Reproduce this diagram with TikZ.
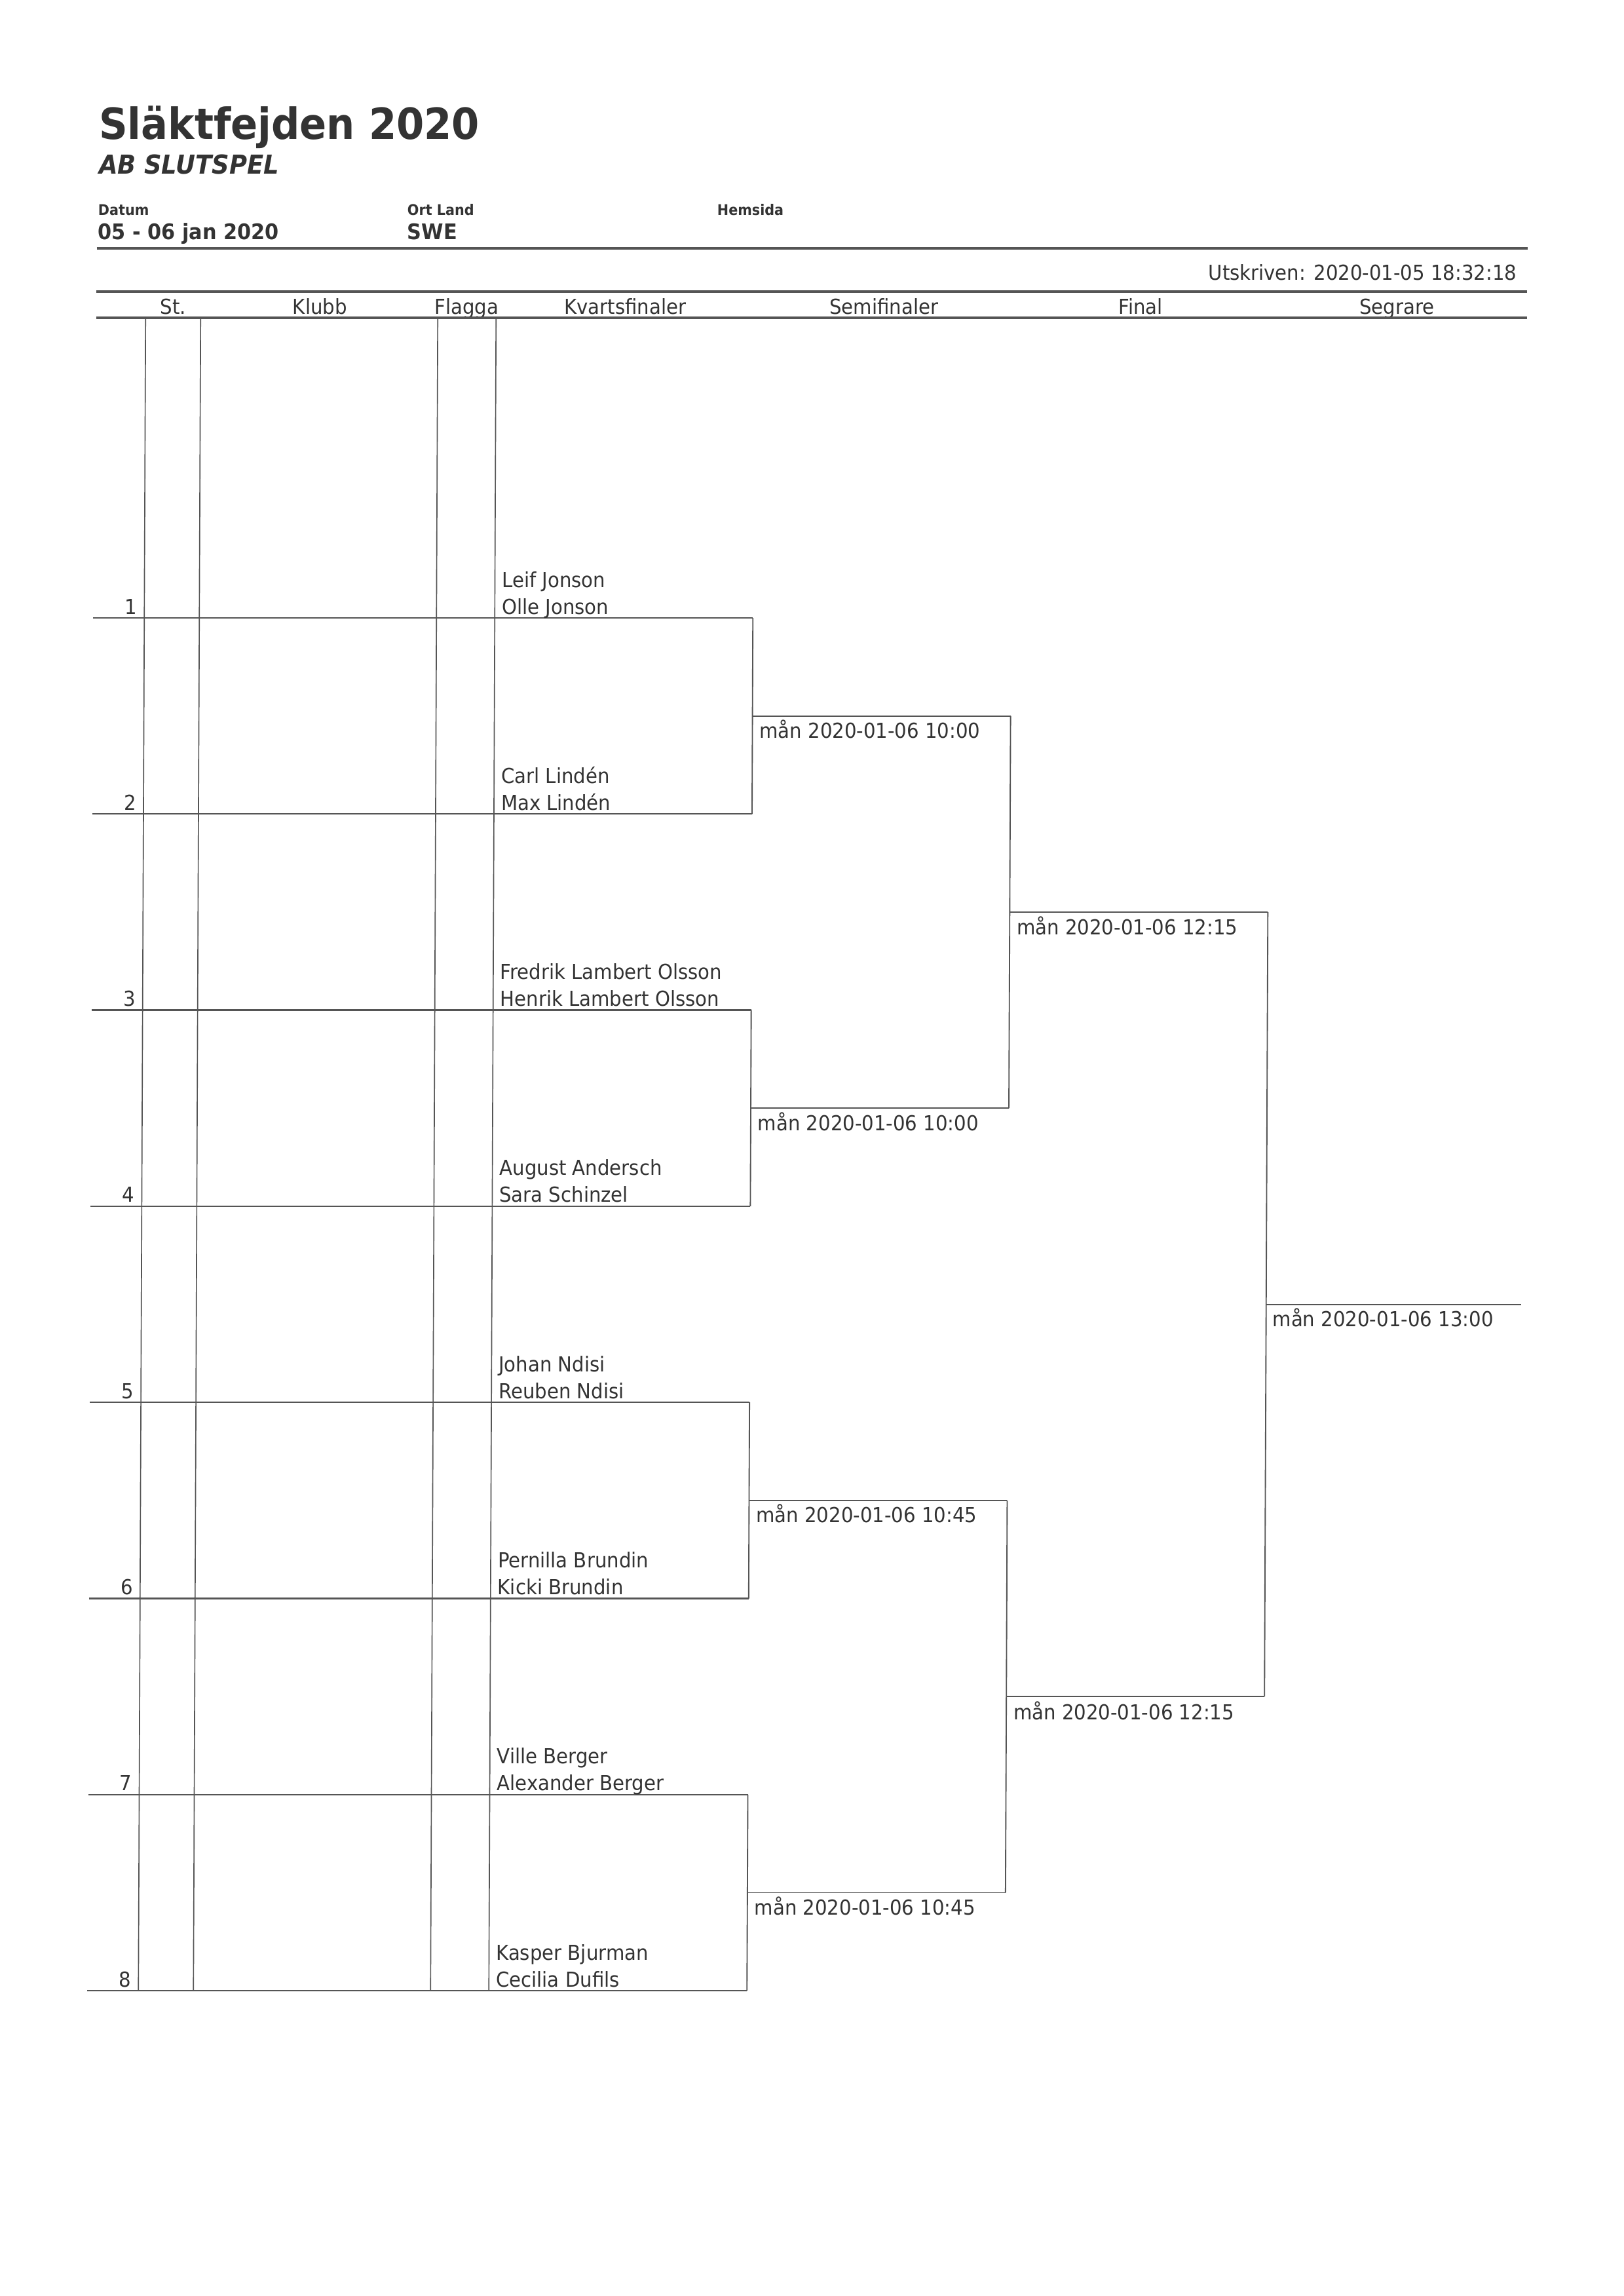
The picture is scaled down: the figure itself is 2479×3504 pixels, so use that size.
\documentclass[tikz,border=0pt]{standalone}
\usepackage{fontspec}
\setmainfont{DejaVu Sans}[FakeStretch=0.925]
\definecolor{ink}{HTML}{333333}
\definecolor{rulecol}{HTML}{555555}
\begin{document}
\begin{tikzpicture}[x=0.084667mm,y=-0.084667mm,
  txt/.style={inner sep=0pt, outer sep=0pt, text=ink, font=\fontsize{7.6}{9}\selectfont},
  smallbold/.style={inner sep=0pt, outer sep=0pt, text=ink, font=\fontsize{5.4}{6}\selectfont\bfseries},
  midbold/.style={inner sep=0pt, outer sep=0pt, text=ink, font=\fontsize{7.9}{9}\selectfont\bfseries},
  headrule/.style={draw=rulecol, line width=1pt},
  rowline/.style={draw=rulecol, line width=0.55pt},
  colline/.style={draw=rulecol, line width=0.4pt},
  bracket/.style={draw=rulecol, line width=0.45pt}]
\useasboundingbox (0,0) rectangle (2479,3504);
\begin{scope}[cm={1,0,0.0043,1,(0.619mm,0)}]
% header
\node[inner sep=0pt, text=ink, anchor=base west, font=\fontsize{15.8}{18}\selectfont\bfseries] (title) at (144,212) {Släktfejden 2020};
\node[inner sep=0pt, text=ink, anchor=base west, font=\fontsize{9.6}{11}\selectfont\bfseries\itshape] (sub) at (144,265) {AB SLUTSPEL};
\node[smallbold, anchor=base west] (datumlbl) at (144,328) {Datum};
\node[midbold, anchor=base west] (datum) at (144,365) {05 - 06 jan 2020};
\node[smallbold, anchor=base west] (ortlbl) at (616,328) {Ort Land};
\node[midbold, anchor=base west] (ort) at (616,365) {SWE};
\node[smallbold, anchor=base west] (hemlbl) at (1089,328) {Hemsida};
\coordinate (hA1) at (142,379); \coordinate (hA2) at (2326,379);
\draw[headrule] (hA1) -- (hA2);
\node[txt, anchor=base east] (utskr) at (2310,427) {Utskriven: 2020-01-05 18:32:18};
\coordinate (hB1) at (142,445); \coordinate (hB2) at (2326,445);
\draw[headrule] (hB1) -- (hB2);
\node[txt, anchor=base] (hSt) at (259,479) {St.};
\node[txt, anchor=base] (hKl) at (483,479) {Klubb};
\node[txt, anchor=base] (hFl) at (707,479) {Flagga};
\node[txt, anchor=base] (hKv) at (949,479) {Kvartsfinaler};
\node[txt, anchor=base] (hSe) at (1344,479) {Semifinaler};
\node[txt, anchor=base] (hFi) at (1736,479) {Final};
\node[txt, anchor=base] (hSg) at (2127,479) {Segrare};
\coordinate (hC1) at (142,485); \coordinate (hC2) at (2326,485);
\draw[draw=rulecol, line width=0.8pt] (hC1) -- (hC2);
% column verticals
\foreach \c/\xx in {1/217, 2/301, 3/663, 4/752} {
  \coordinate (vT\c) at (\xx,485);
  \coordinate (vB\c) at (\xx,3038.1);
  \draw[colline] (vT\c) -- (vB\c);
}
% rows
\foreach \k/\a/\b in {1/Leif Jonson/Olle Jonson, 2/Carl Lindén/Max Lindén,
  3/Fredrik Lambert Olsson/Henrik Lambert Olsson, 4/August Andersch/Sara Schinzel,
  5/Johan Ndisi/Reuben Ndisi, 6/Pernilla Brundin/Kicki Brundin,
  7/Ville Berger/Alexander Berger, 8/Kasper Bjurman/Cecilia Dufils} {
  \pgfmathsetmacro\yy{943+299.3*(\k-1)}
  \coordinate (rL\k) at (139,\yy);
  \coordinate (rR\k) at (1146,\yy);
  \draw[rowline] (rL\k) -- (rR\k);
  \node[txt, anchor=base east] (seed\k) at (206,\yy-6) {\k};
  \node[txt, anchor=base west] (pa\k) at (763,\yy-47) {\a};
  \node[txt, anchor=base west] (pb\k) at (763,\yy-6) {\b};
}
% quarterfinal brackets -> semifinal lines
\foreach \i/\j/\m/\t in {1/2/1/10:00, 3/4/2/10:00, 5/6/3/10:45, 7/8/4/10:45} {
  \draw[bracket] (rR\i) -- (rR\j);
  \pgfmathsetmacro\yy{943+299.3*(\i-1)+149.65}
  \coordinate (sL\m) at (1146,\yy);
  \coordinate (sR\m) at (1540,\yy);
  \draw[bracket] (sL\m) -- (sR\m);
  \node[txt, anchor=base west] (sd\m) at (1157,\yy+34) {mån 2020-01-06 \t};
}
% semifinal brackets -> final lines
\foreach \i/\j/\m in {1/2/1, 3/4/2} {
  \draw[bracket] (sR\i) -- (sR\j);
  \pgfmathsetmacro\yy{943+299.3*(4*\m-4)+448.95}
  \coordinate (fL\m) at (1540,\yy);
  \coordinate (fR\m) at (1934,\yy);
  \draw[bracket] (fL\m) -- (fR\m);
  \node[txt, anchor=base west] (fd\m) at (1551,\yy+35) {mån 2020-01-06 12:15};
}
% final bracket -> winner
\draw[bracket] (fR1) -- (fR2);
\coordinate (wL) at (1934,1990.55);
\coordinate (wR) at (2323,1990.55);
\draw[bracket] (wL) -- (wR);
\node[txt, anchor=base west] (wd) at (1944,2024) {mån 2020-01-06 13:00};
\end{scope}
\end{tikzpicture}
\end{document}
